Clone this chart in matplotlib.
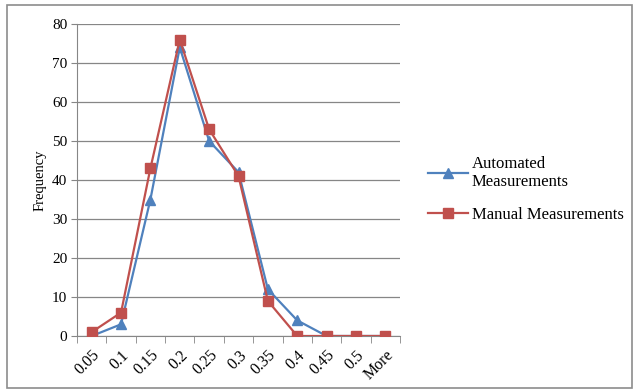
import matplotlib
matplotlib.use("Agg")
import matplotlib.pyplot as plt
from matplotlib.patches import Rectangle

bins = ["0.05", "0.1", "0.15", "0.2", "0.25", "0.3", "0.35", "0.4", "0.45", "0.5", "More"]
automated = [0, 3, 35, 74, 50, 42, 12, 4, 0, 0, 0]
manual = [1, 6, 43, 76, 53, 41, 9, 0, 0, 0, 0]

plt.rcParams["font.family"] = ["Liberation Serif", "DejaVu Serif"]

fig = plt.figure(figsize=(6.36, 3.90), dpi=100)
fig.patches.append(Rectangle((7 / 636, 2 / 390), 625 / 636, 383 / 390,
                             transform=fig.transFigure, fill=False,
                             edgecolor="#8c8c8c", linewidth=1.2))

ax = fig.add_axes([77 / 636, 1 - 336 / 390, 323 / 636, 312 / 390])
x = list(range(len(bins)))
ax.plot(x, automated, color="#4F81BD", marker="^", markersize=7.5,
        linewidth=1.6, label="Automated\nMeasurements", zorder=3)
ax.plot(x, manual, color="#C0504D", marker="s", markersize=7.5,
        linewidth=1.6, label="Manual Measurements", zorder=4)

ax.set_xlim(-0.5, len(bins) - 0.5)
ax.set_ylim(0, 80)
ax.set_yticks(range(0, 81, 10))
ax.tick_params(axis="y", labelsize=11, length=4, color="#868686", pad=3)
ax.set_xticks(x)
ax.set_xticklabels(bins, rotation=45, ha="right", rotation_mode="anchor", fontsize=11.5)
ax.tick_params(axis="x", length=0, pad=8)
ax.set_xticks([i - 0.5 for i in range(len(bins) + 1)], minor=True)
ax.tick_params(axis="x", which="minor", length=5, color="#868686")
ax.grid(axis="y", color="#868686", linewidth=0.9)
ax.set_axisbelow(True)
for side in ("top", "right"):
    ax.spines[side].set_visible(False)
for side in ("left", "bottom"):
    ax.spines[side].set_color("#868686")
ax.set_ylabel("Frequency", fontsize=10.5, labelpad=4)

ax.legend(loc="center left", bbox_to_anchor=(1.065, 0.47), frameon=False,
          fontsize=12, handlelength=2.4, handletextpad=0.25, labelspacing=1.0,
          borderaxespad=0)

fig.savefig("out.png", dpi=100)
